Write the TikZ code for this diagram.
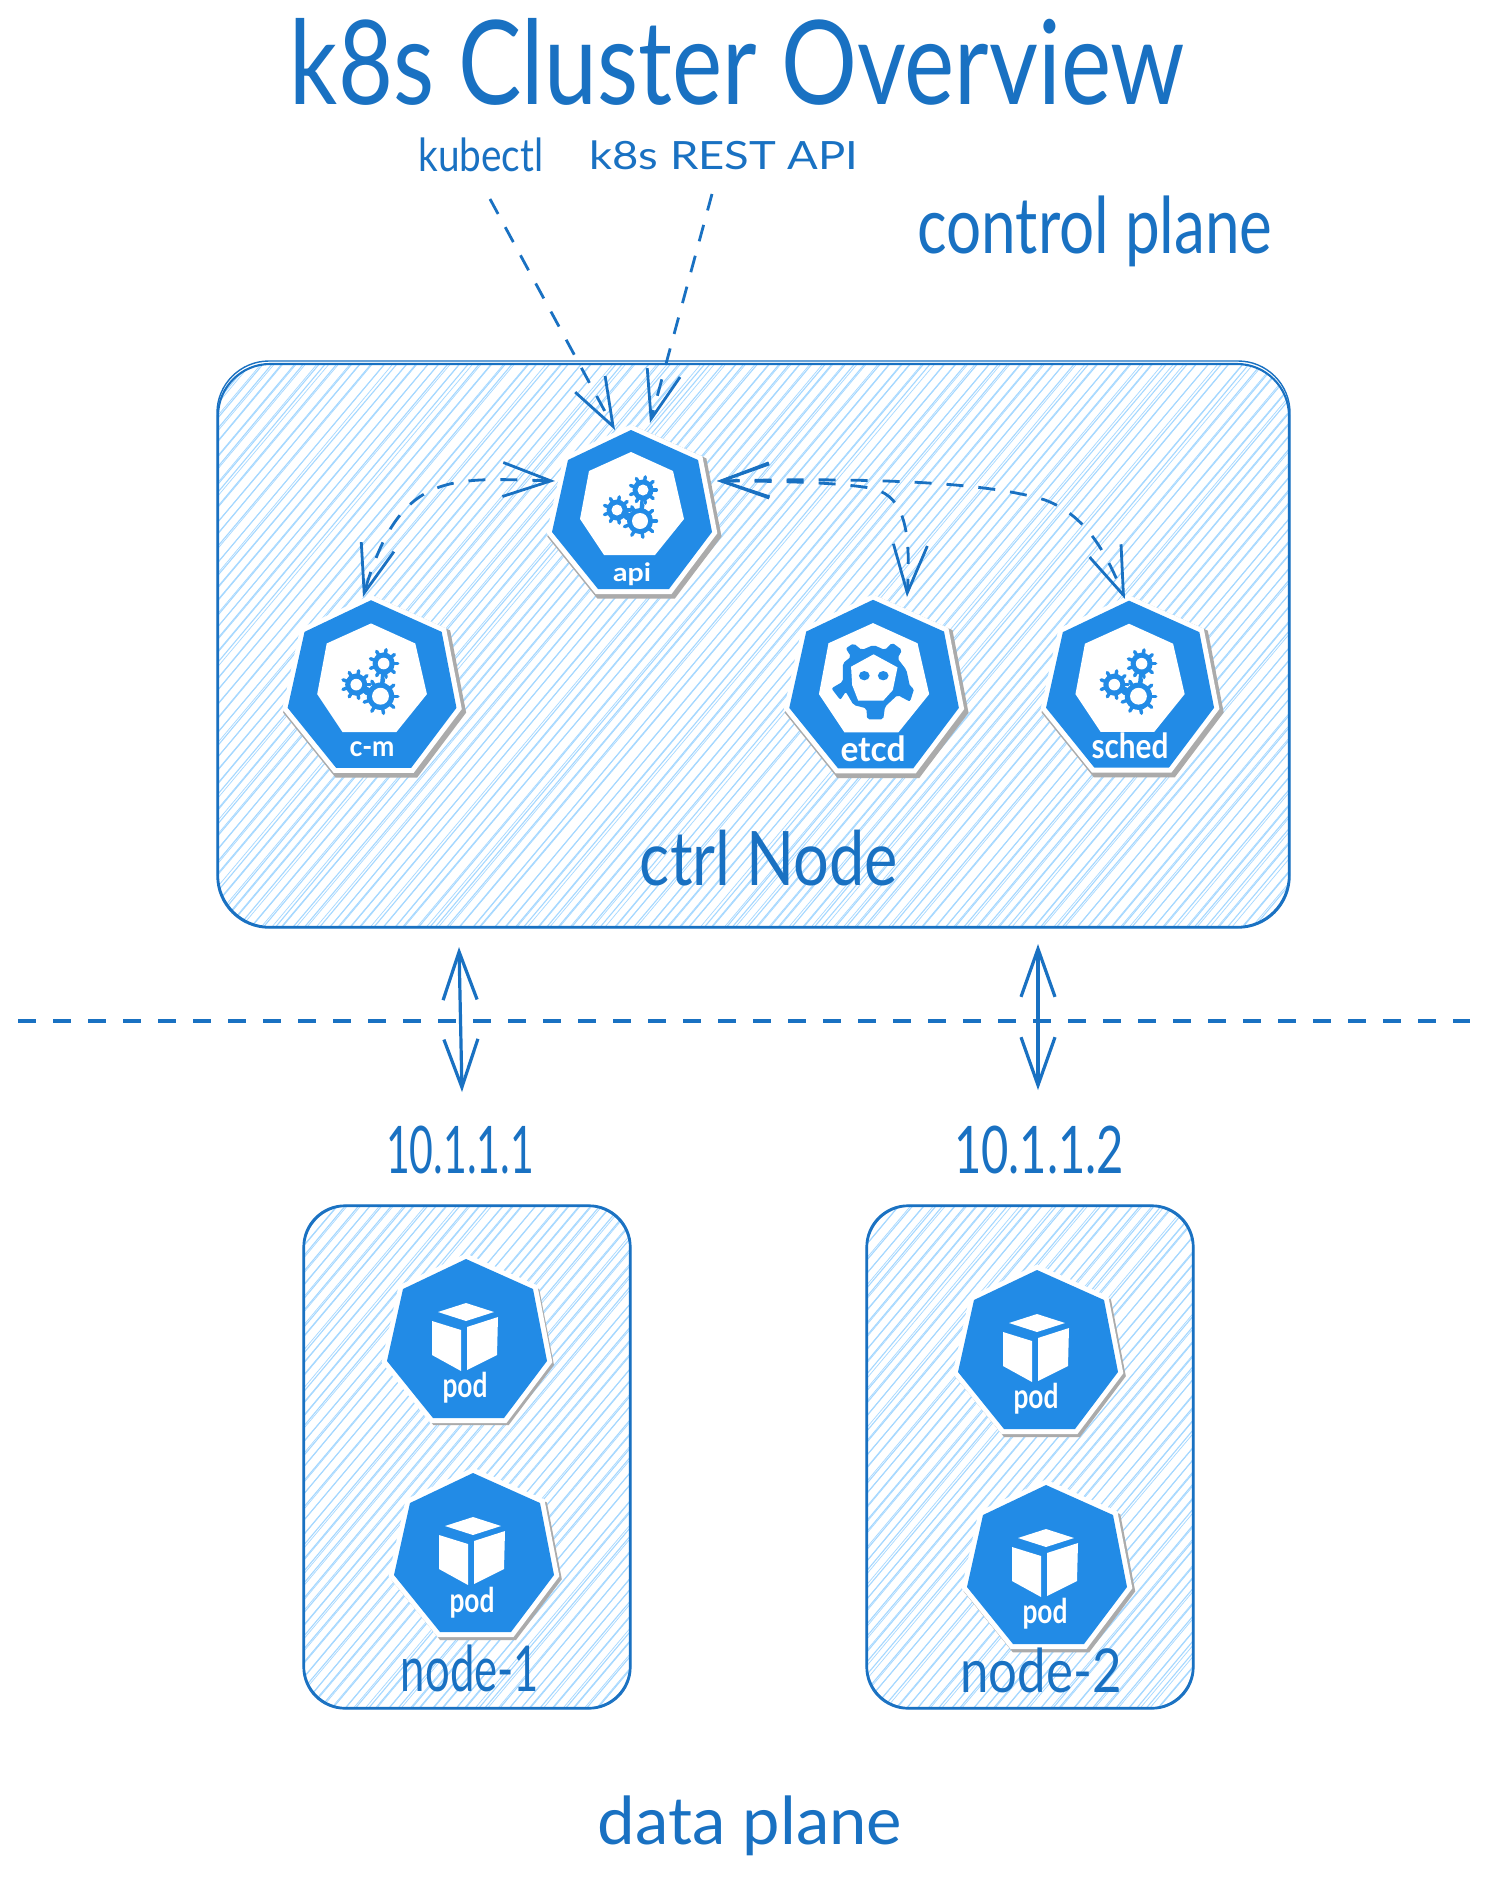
\documentclass[tikz,border=0pt]{standalone}
\usepackage{fontspec}
\usepackage{graphicx}
\setmainfont{Lato}
\usetikzlibrary{arrows.meta,calc}
\definecolor{inkblue}{HTML}{1971C2}
\definecolor{hexblue}{HTML}{228BE6}
\definecolor{hachblue}{HTML}{A5D8FF}
\definecolor{shadowgray}{HTML}{ABABAB}
\newlength\fitw \newlength\fith
\newcommand{\fitt}[3]{\fitw=#1pt \fitw=0.5\fitw \fith=#2pt \fith=0.5\fith \resizebox*{\fitw}{\fith}{#3}}
\tikzset{
  lab/.style={text=inkblue,inner sep=0pt,outer sep=0pt},
  hexlab/.style={text=white,inner sep=0pt,outer sep=0pt,font=\bfseries},
  boxline/.style={draw=inkblue,line width=1.05pt,inner sep=0pt},
  hexanchor/.style={inner sep=0pt,minimum width=80pt,minimum height=80pt},
  headtip/.style={-{Straight Barb[length=24pt,width=17pt]}},
  bothtips/.style={{Straight Barb[length=24pt,width=17pt]}-{Straight Barb[length=24pt,width=17pt]}},
  dashlink/.style={draw=inkblue,line width=1.4pt,dash pattern=on 8.5pt off 7.5pt},
  solidlink/.style={draw=inkblue,line width=1.6pt},
  hachure/.style={draw=hachblue,line width=0.55pt},
}
\newcommand{\hachfill}[5]{%
  \begin{scope}
    \clip[rounded corners=#5pt] (#1,#2) rectangle (#3,#4);
    \pgfmathsetmacro\hh{(#4-(#2))*0.84}
    \pgfmathsetmacro\hstart{#1-\hh}
    \pgfmathsetmacro\hnext{\hstart+11}
    \foreach \s in {\hstart,\hnext,...,#3}{
      \pgfmathsetmacro\ja{\s+rand*3}
      \pgfmathsetmacro\jb{\s+\hh+rand*3}
      \pgfmathsetmacro\jc{\s+rand*2}
      \pgfmathsetmacro\jd{\s+\hh+rand*2}
      \draw[hachure] (\ja,#4) -- (\jb,#2);
      \draw[hachure,line width=0.35pt] (\jc,#4) -- (\jd,#2);
    }
  \end{scope}}
\def\hexpath{(0,-87)--(67,-57)--(81,15)--(38,72)--(-33,72)--(-79,15)--(-63,-57)--cycle}
\def\hexinner{(0,-65)--(42,-46)--(53,2)--(24,38)--(-27,38)--(-51,2)--(-42,-46)--cycle}
% #1 shadow line width, #2 cx, #3 cy, #4 scale, #5 inner drawing, white halo width fixed
\newcommand{\hexbody}[5]{%
  \begin{scope}[shift={(#2,#3)},scale=#4]
    \begin{scope}[shift={(2.5,3)}]
      \draw[shadowgray,fill=shadowgray,line width=#1pt,line join=miter] \hexpath;
    \end{scope}
    \draw[white,fill=white,line width=5pt,line join=miter] \hexpath;
    \fill[hexblue] \hexpath;
    #5
  \end{scope}}
\newcommand{\kgear}[3]{%
  \begin{scope}[shift={(#1,#2)}]
    \fill[hexblue] (0,0) circle (#3);
    \foreach \ang in {0,40,...,320}{\draw[hexblue,line width=1.7pt,line cap=round] (\ang:0.9*#3) -- (\ang:1.27*#3);}
  \end{scope}}
\newcommand{\kgearhole}[3]{\fill[white] (#1,#2) circle (#3);}
\newcommand{\gears}{%
  \fill[white] \hexinner;
  \draw[hexblue,line width=1.6pt] (12,-27) -- (9,3) -- (-13,-8);
  \kgear{9}{4}{13}\kgear{12}{-27}{10.5}\kgear{-14}{-7}{10.5}
  \kgearhole{9}{4}{8}\kgearhole{12}{-27}{5.5}\kgearhole{-14}{-7}{5.5}}
\newcommand{\cube}{%
  \fill[white] (-28,-34)--(0,-43)--(28,-34)--(0,-25)--cycle;
  \fill[white] (-34,-25)--(-5,-16)--(-5,25)--(-34,9)--cycle;
  \fill[white] (1,-19)--(32,-29)--(31,9)--(1,24)--cycle;}
\begin{document}
\begin{tikzpicture}[x=0.5pt,y=-0.5pt]
\useasboundingbox (0,0) rectangle (1492,1879);
\fill[white] (0,0) rectangle (1492,1879);
\pgfmathsetseed{4242}

% boxes
\hachfill{218}{364}{1289}{927}{26}
\hachfill{304}{1206}{630}{1708}{21}
\hachfill{867}{1206}{1193}{1708}{21}
\node[boxline,rounded corners=26pt,minimum width=535.5pt,minimum height=281.5pt] (ctrl) at (753.5,645.5) {};
\draw[inkblue,line width=0.7pt,rounded corners=26pt] (217,361) rectangle (1290,928);
\node[boxline,rounded corners=21pt,minimum width=163pt,minimum height=251pt] (nodeone) at (467,1457) {};
\draw[inkblue,line width=0.6pt,rounded corners=21pt] (303,1205) rectangle (631,1709);
\node[boxline,rounded corners=21pt,minimum width=163pt,minimum height=251pt] (nodetwo) at (1030,1457) {};
\draw[inkblue,line width=0.6pt,rounded corners=21pt] (866,1205) rectangle (1194,1709);

% control plane hexagons
\hexbody{6.6}{631}{517}{1}{\gears}
\node[hexanchor] (api) at (631,517) {};
\node[hexlab] (apilab) at (632,574) {\fitt{38}{23}{api}};
\hexbody{6.6}{371}{692}{1.055}{\gears}
\node[hexanchor] (cm) at (371,692) {};
\node[hexlab] (cmlab) at (372,749) {\fitt{45}{15}{c-m}};
\hexbody{6.6}{873}{692}{1.06}{\fill[white] \hexinner;}
\node[hexanchor] (etcd) at (873,692) {};
\node[hexlab] (etcdlab) at (873,749) {\fitt{65}{26}{etcd}};
\hexbody{6.6}{1129}{692}{1.05}{\gears}
\node[hexanchor] (sched) at (1129,692) {};
\node[hexlab] (schedlab) at (1130,746) {\fitt{77}{26}{sched}};

% etcd icon, in the 2.8x / 3x crop frame
\begin{scope}[shift={(760,560)},x=0.17857pt,y=-0.16667pt]
  \fill[hexblue,rounded corners=1pt] (240,265)--(262,250)--(285,270)--(318,255)--(350,270)--(370,248)--(398,270)--(385,295)--(410,330)--(420,380)--(432,385)--(420,425)--(385,405)--(350,440)--(345,478)--(300,478)--(298,445)--(262,435)--(240,395)--(225,420)--(200,385)--(232,365)--(232,310)--(255,290)--cycle;
  \fill[white] (318,283)--(385,322)--(372,390)--(345,422)--(275,422)--(258,375)--(255,320)--cycle;
  \fill[hexblue] (292,347) ellipse (15 and 14);
  \fill[hexblue] (345,347) ellipse (15 and 14);
\end{scope}

% pods
\hexbody{4.2}{466}{1346}{1}{\cube}
\node[hexanchor] (podA) at (466,1346) {};
\node[hexlab] (podAlab) at (465,1388) {\fitt{45}{31}{pod}};
\hexbody{5}{473}{1560}{1}{\cube}
\node[hexanchor] (podB) at (473,1560) {};
\node[hexlab] (podBlab) at (472,1603) {\fitt{45}{31}{pod}};
\hexbody{5}{1037}{1357}{1}{\cube}
\node[hexanchor] (podC) at (1037,1357) {};
\node[hexlab] (podClab) at (1036,1399) {\fitt{45}{31}{pod}};
\hexbody{5.4}{1046}{1572}{1}{\cube}
\node[hexanchor] (podD) at (1046,1572) {};
\node[hexlab] (podDlab) at (1045,1614) {\fitt{45}{31}{pod}};

% texts
\node[lab] (title) at (737.5,61.5) {\fitt{895}{87}{k8s Cluster Overview}};
\node[lab] (kubectl) at (481,155) {\fitt{125}{34}{kubectl}};
\node[lab] (rest) at (724,155) {\fitt{269}{29}{k8s REST API}};
\node[lab] (cplane) at (1095,231) {\fitt{355}{71}{control plane}};
\node[lab] (ctrllab) at (769,858) {\fitt{258}{56}{ctrl Node}};
\node[lab] (ipone) at (460,1150) {\fitt{148}{48}{10.1.1.1}};
\node[lab] (iptwo) at (1039,1150) {\fitt{170}{48}{10.1.1.2}};
\node[lab] (nodeonelab) at (470,1668) {\fitt{138}{47}{node-1}};
\node[lab] (nodetwolab) at (1041,1670) {\fitt{161}{45}{node-2}};
\node[lab] (dplane) at (750,1826) {\fitt{304}{60}{data plane}};

% connectors
\draw[dashlink,headtip] ($(kubectl)+(9,44)$) -- ($(api)+(-16,-87)$);
\draw[dashlink,headtip] ($(rest)+(-12,39)$) -- ($(api)+(19,-94)$);
\draw[dashlink,bothtips] ($(api)+(-76,-36)$) .. controls ($(api)+(-181,-39)$) and ($(cm)+(29,-222)$) .. ($(cm)+(-8,-95)$);
\draw[dashlink,bothtips] ($(api)+(86,-36)$) .. controls ($(api)+(159,-36)$) and ($(api)+(209,-34)$) .. ($(api)+(239,-29)$) .. controls ($(etcd)+(27,-198)$) and ($(etcd)+(39,-172)$) .. ($(etcd)+(34,-95)$);
\draw[dashlink,bothtips] ($(api)+(86,-36)$) .. controls ($(api)+(219,-39)$) and ($(api)+(349,-37)$) .. ($(api)+(414,-17)$) .. controls ($(sched)+(-44,-177)$) and ($(sched)+(-24,-142)$) .. ($(sched)+(-4,-93)$);
\draw[solidlink,bothtips] ($(ctrl.south)+(-294.5,19)$) -- ($(ipone)+(2,-58)$);
\draw[solidlink,bothtips] ($(ctrl.south)+(284.5,16)$) -- ($(iptwo)+(-1,-60)$);
\coordinate (planeL) at (18,1021);
\coordinate (planeR) at (1470,1021);
\draw[draw=inkblue,line width=1.6pt,dash pattern=on 9pt off 8.5pt] (planeL) -- (planeR);
\end{tikzpicture}
\end{document}
